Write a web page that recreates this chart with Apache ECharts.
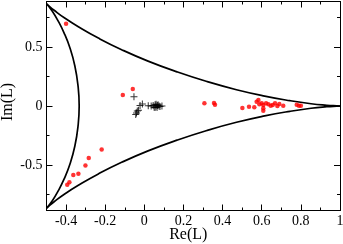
<!DOCTYPE html>
<html><head><meta charset="utf-8">
<script src="https://cdn.jsdelivr.net/npm/echarts@6/dist/echarts.min.js"></script>
<style>html,body{margin:0;padding:0;background:#fff}#c{width:343px;height:244px}</style>
</head><body><div id="c"></div>
<script>
const xTicks = [-0.4, -0.2, 0, 0.2, 0.4, 0.6, 0.8, 1];
const xMinorTicks = [-0.3, -0.1, 0.1, 0.3, 0.5, 0.7, 0.9];
const yTicks = [-0.5, 0, 0.5];
const yMinorTicks = [-0.75, -0.25, 0.25, 0.75];

const upperArc = [[1,0],[0.983,0.001],[0.933,0.006],[0.852,0.019],[0.744,0.045],[0.615,0.084],[0.471,0.138],[0.320,0.207],[0.167,0.289],[0.019,0.380],[-0.116,0.477],[-0.235,0.575],[-0.333,0.667],[-0.409,0.747],[-0.461,0.811],[-0.491,0.852],[-0.5,0.866]];
const leftArc = [[-0.5,0.866],[-0.492,0.851],[-0.471,0.805],[-0.443,0.728],[-0.411,0.622],[-0.380,0.491],[-0.355,0.339],[-0.339,0.173],[-0.333,0],[-0.339,-0.173],[-0.355,-0.339],[-0.380,-0.491],[-0.411,-0.622],[-0.443,-0.728],[-0.471,-0.805],[-0.492,-0.851],[-0.5,-0.866]];
const lowerArc = [[-0.5,-0.866],[-0.491,-0.852],[-0.461,-0.811],[-0.409,-0.747],[-0.333,-0.667],[-0.235,-0.575],[-0.116,-0.477],[0.019,-0.380],[0.167,-0.289],[0.320,-0.207],[0.471,-0.138],[0.615,-0.084],[0.744,-0.045],[0.852,-0.019],[0.933,-0.006],[0.983,-0.001],[1,0]];

const redPoints = [[-0.400,0.696],[-0.218,-0.369],[-0.284,-0.440],[-0.301,-0.503],[-0.337,-0.573],[-0.363,-0.585],[-0.383,-0.645],[-0.394,-0.667],
  [-0.110,0.094],[-0.059,0.145],[0.307,0.023],[0.356,0.025],[0.361,0.011],
  [0.501,-0.017],[0.535,-0.006],[0.562,-0.011],[0.574,0.037],[0.583,0.051],[0.588,0.014],[0.600,0.023],[0.608,0.009],[0.608,-0.020],[0.608,-0.040],
  [0.622,0.023],[0.634,0.014],[0.646,0.003],[0.656,0.009],[0.668,0.023],[0.680,0.000],[0.690,0.017],[0.710,0.003],[0.779,0.011],[0.790,0.003],[0.800,0.003]];

const blackPoints = [[-0.053,0.079],[-0.010,0.017],[-0.022,0.005],[-0.036,-0.043],[-0.044,-0.071],[-0.040,-0.060],[-0.030,-0.035],
  [0.020,0.003],[0.035,0.000],[0.045,0.005],[0.050,-0.010],[0.055,0.010],[0.060,0.000],[0.065,-0.012],[0.070,0.010],[0.075,0.000],[0.080,-0.005],[0.090,0.000],[0.060,0.015],[0.055,-0.012],[0.068,0.005]];

const FONT = 'Liberation Serif';
const XMIN = -0.5, XMAX = 1, YMIN = -0.885, YMAX = 0.885;

function xAx(pos, ticks, len, labels, line) {
  return {
    type: 'value', position: pos, min: XMIN, max: XMAX,
    axisLine: {show: line, onZero: false, lineStyle: {color: '#000', width: 1}},
    axisTick: {show: true, inside: true, length: len, customValues: ticks, lineStyle: {color: '#000', width: 1}},
    axisLabel: labels ? {show: true, customValues: ticks, margin: 4, color: '#000', fontFamily: FONT, fontSize: 14} : {show: false},
    splitLine: {show: false}
  };
}
function yAx(pos, ticks, len, labels, line) {
  return {
    type: 'value', position: pos, min: YMIN, max: YMAX,
    axisLine: {show: line, onZero: false, lineStyle: {color: '#000', width: 1}},
    axisTick: {show: true, inside: true, length: len, customValues: ticks, lineStyle: {color: '#000', width: 1}},
    axisLabel: labels ? {show: true, customValues: ticks, margin: 4, color: '#000', fontFamily: FONT, fontSize: 14} : {show: false},
    splitLine: {show: false}
  };
}

const xAxes = [
  Object.assign(xAx('bottom', xTicks, 6, true, true), {name: 'Re(L)', nameLocation: 'middle', nameGap: 16, nameMoveOverlap: false, nameTextStyle: {color: '#000', fontFamily: FONT, fontSize: 16, padding: [0, 10, 0, 0]}}),
  xAx('bottom', xMinorTicks, 3, false, false),
  xAx('top', xTicks, 6, false, true),
  xAx('top', xMinorTicks, 3, false, false)
];
const yAxes = [
  Object.assign(yAx('left', yTicks, 6, true, true), {name: 'Im(L)', nameLocation: 'middle', nameGap: 31, nameMoveOverlap: false, nameTextStyle: {color: '#000', fontFamily: FONT, fontSize: 16, padding: [0, 0, 0, 8]}}),
  yAx('left', yMinorTicks, 3, false, false),
  yAx('right', yTicks, 6, false, true),
  yAx('right', yMinorTicks, 3, false, false)
];

const arcSeries = [upperArc, leftArc, lowerArc].map(a => ({
  type: 'line', data: a, showSymbol: false, smooth: true, silent: true,
  lineStyle: {color: '#000', width: 1.7}, z: 2
}));

const chart = echarts.init(document.getElementById('c'), null, {renderer: 'canvas'});
chart.setOption({
  animation: false,
  backgroundColor: '#fff',
  grid: {left: 46.5, right: 3, top: 1.5, bottom: 33.5, containLabel: false, outerBoundsMode: 'none'},
  xAxis: xAxes,
  yAxis: yAxes,
  series: arcSeries.concat([
    {type: 'scatter', data: redPoints, symbol: 'circle', symbolSize: 4.5, itemStyle: {color: '#ff0000'}, z: 3},
    {type: 'scatter', data: blackPoints, symbol: 'path://M3,0H4V7H3ZM0,3H7V4H0Z', symbolSize: 7, itemStyle: {color: '#000'}, z: 4}
  ])
});
</script></body></html>
